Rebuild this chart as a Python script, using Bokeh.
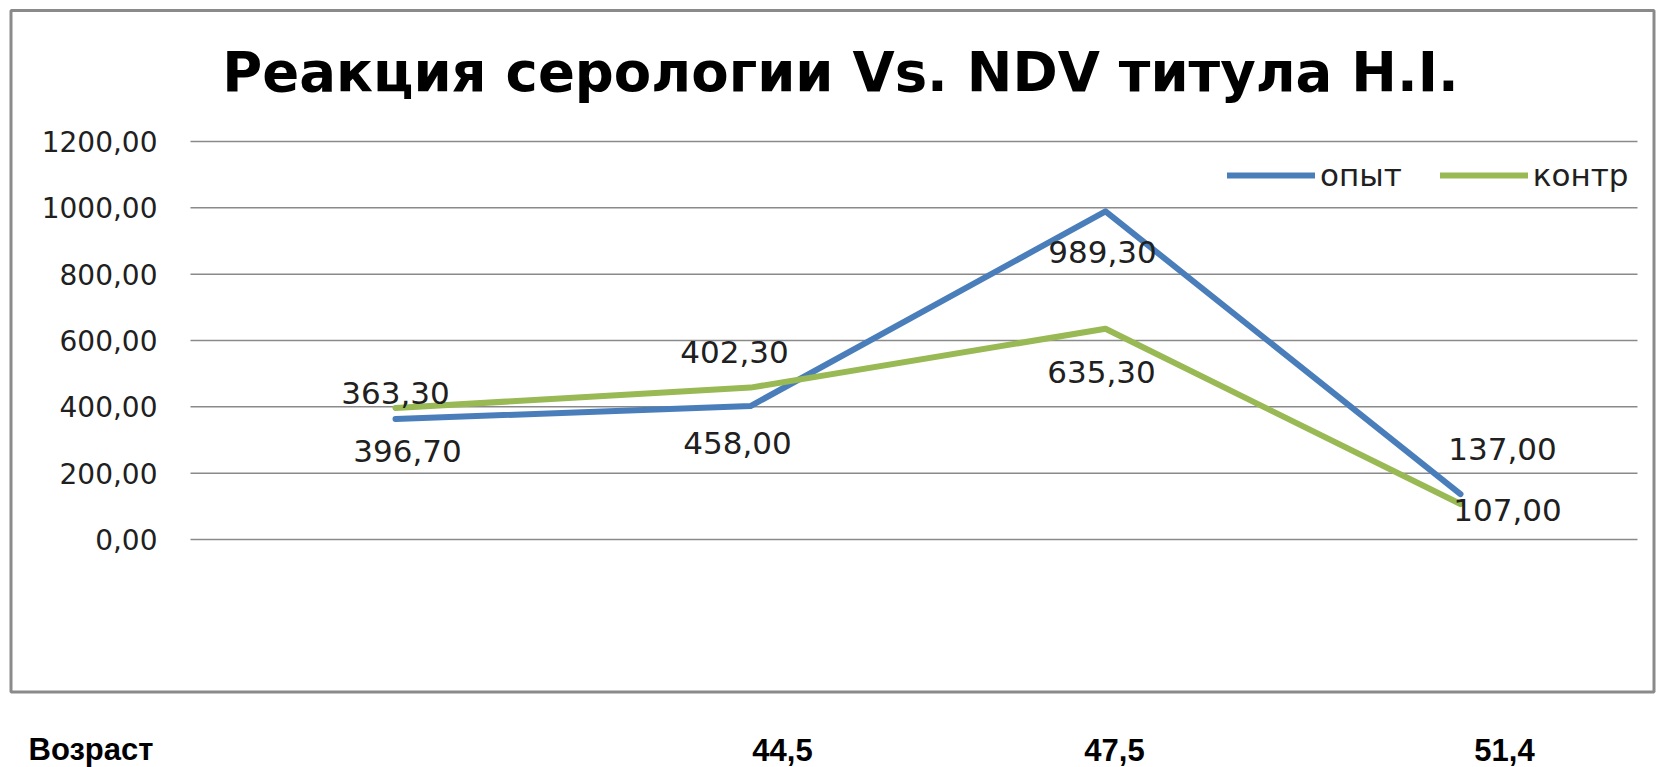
from bokeh.plotting import figure
from bokeh.models import Range1d, BoxAnnotation, Label, ColumnDataSource
from bokeh.core.properties import value
from bokeh.embed import file_html
from bokeh.resources import INLINE

# ---- data ----
title_text = "Реакция серологии Vs. NDV титула H.I."
series_names = ["опыт", "контр"]
point_idx = [0, 1, 2, 3]
opyt = [363.3, 402.3, 989.3, 137.0]
kontr = [396.7, 458.0, 635.3, 107.0]
y_ticks = [0, 200, 400, 600, 800, 1000, 1200]
y_tick_labels = ["0,00", "200,00", "400,00", "600,00", "800,00", "1000,00", "1200,00"]
age_header = "Возраст"
age_idx = [1, 2, 3]
age_labels = ["44,5", "47,5", "51,4"]

# ---- layout / styles ----
W, H = 1656, 767
X0_PX, STEP_PX = 395.0, 355.0        # pixel position of first category, category spacing
Y0_PX, Y1200_PX = 539.0, 141.0       # pixel rows of value 0 and value 1200
GRID_L_PX, GRID_R_PX = 190.0, 1637.0
BLUE = "#4A7EBB"
GREEN = "#98B954"
TXT = "#202020"
FONT = value("DejaVu Sans")
opyt_dx = [0, -16, -3, 42]
opyt_dy = [-26, -54, 41, -45]
kontr_dx = [12, -13, -4, 47]
kontr_dy = [43, 55, 43, 6]
age_dx = [32, 9, 44]

ppu_y = (Y0_PX - Y1200_PX) / 1200.0
x_range = Range1d(-X0_PX / STEP_PX, (W - X0_PX) / STEP_PX)
y_range = Range1d(-(H - Y0_PX) / ppu_y, Y0_PX / ppu_y)
grid_l = (GRID_L_PX - X0_PX) / STEP_PX
grid_r = (GRID_R_PX - X0_PX) / STEP_PX


def fmt(v):
    return f"{v:.2f}".replace(".", ",")


p = figure(width=W, height=H, output_backend="svg", toolbar_location=None,
           x_range=x_range, y_range=y_range,
           x_axis_location=None, y_axis_location=None,
           min_border=0, min_border_left=0, min_border_right=0,
           min_border_top=0, min_border_bottom=0)
p.background_fill_color = "white"
p.border_fill_color = "white"
p.outline_line_color = None
p.xgrid.visible = False
p.ygrid.visible = False

# value gridlines and their labels (value axis)
p.segment(x0=[grid_l] * len(y_ticks), x1=[grid_r] * len(y_ticks), y0=y_ticks, y1=y_ticks,
          line_color="#8a8a8a", line_width=1.5)
p.text(x=[grid_l] * len(y_ticks), y=y_ticks, text=y_tick_labels, x_offset=-33,
       text_font=FONT, text_font_size="28px", text_color=TXT,
       text_align="right", text_baseline="middle")

# lines
p.line(point_idx, opyt, line_color=BLUE, line_width=6, line_join="round",
       line_cap="round", legend_label=series_names[0])
p.line(point_idx, kontr, line_color=GREEN, line_width=6, line_join="round",
       line_cap="round", legend_label=series_names[1])

# data labels
lab_src = ColumnDataSource(dict(
    x=point_idx + point_idx,
    y=opyt + kontr,
    t=[fmt(v) for v in opyt] + [fmt(v) for v in kontr],
    dx=opyt_dx + kontr_dx,
    dy=opyt_dy + kontr_dy,
))
p.text(x="x", y="y", text="t", x_offset="dx", y_offset="dy", source=lab_src,
       text_font=FONT, text_font_size="31px", text_color=TXT,
       text_align="center", text_baseline="middle")

# legend
lg = p.legend[0]
lg.location = (1227, 574)
lg.orientation = "horizontal"
lg.label_text_font = "DejaVu Sans"
lg.label_text_font_size = "31px"
lg.label_text_color = TXT
lg.glyph_width = 88
lg.glyph_height = 30
lg.label_standoff = 5
lg.spacing = 38
lg.padding = 8
lg.margin = 0
lg.border_line_color = None
lg.background_fill_alpha = 0

# title
p.add_layout(Label(x=840, y=71, x_units="canvas", y_units="canvas", text=title_text,
                   text_font="DejaVu Sans", text_font_style="bold",
                   text_font_size="54.5px", text_color="black",
                   text_align="center", text_baseline="alphabetic"))

# outer chart border
p.add_layout(BoxAnnotation(left=10.5, right=1653.5, top=10, bottom=691.5,
                           left_units="canvas", right_units="canvas",
                           top_units="canvas", bottom_units="canvas",
                           fill_alpha=0, line_color="#8a8a8a", line_alpha=1.0,
                           line_width=3))

# age row below the chart
p.add_layout(Label(x=28, y=749, x_units="canvas", y_units="canvas", text=age_header,
                   text_font="Liberation Sans", text_font_style="bold",
                   text_font_size="31px", text_color="black",
                   text_align="left", text_baseline="alphabetic"))
for i, lab, dx in zip(age_idx, age_labels, age_dx):
    p.add_layout(Label(x=i, y=749, x_units="data", y_units="canvas", text=lab,
                       x_offset=dx, text_font="Liberation Sans", text_font_style="bold",
                       text_font_size="31px", text_color="black",
                       text_align="center", text_baseline="alphabetic"))

open("out.html", "w").write(file_html(p, INLINE))
